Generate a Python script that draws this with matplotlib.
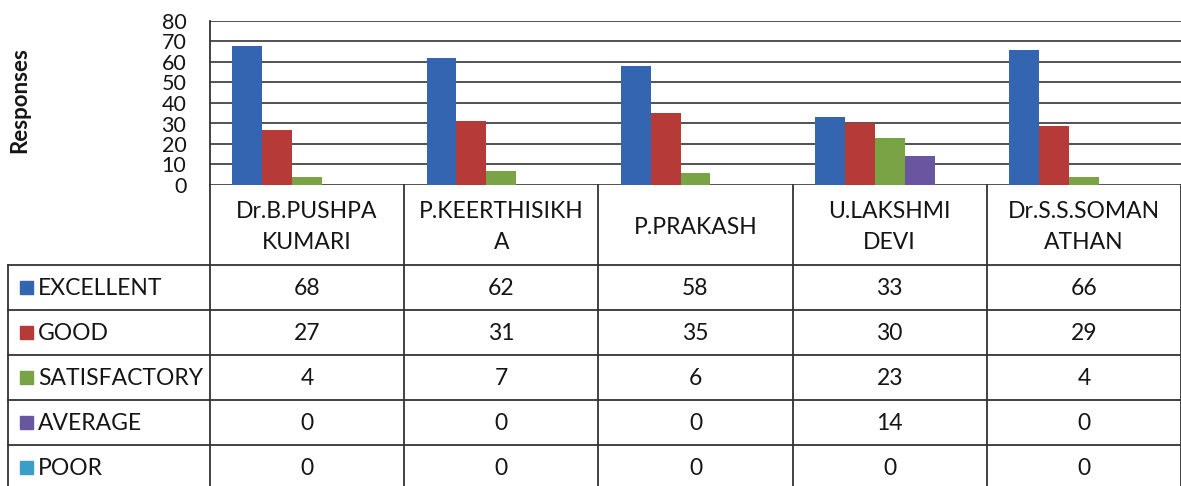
import matplotlib.pyplot as plt
import numpy as np
from matplotlib.patches import Rectangle

plt.rcParams['font.family'] = ['Lato', 'DejaVu Sans']

# ---- data ----
categories = ["Dr.B.PUSHPA\nKUMARI", "P.KEERTHISIKH\nA", "P.PRAKASH",
              "U.LAKSHMI\nDEVI", "Dr.S.S.SOMAN\nATHAN"]
series_names = ["EXCELLENT", "GOOD", "SATISFACTORY", "AVERAGE", "POOR"]
excellent = [68, 62, 58, 33, 66]
good = [27, 31, 35, 30, 29]
satisfactory = [4, 7, 6, 23, 4]
average = [0, 0, 0, 14, 0]
poor = [0, 0, 0, 0, 0]
yticks = [0, 10, 20, 30, 40, 50, 60, 70, 80]
y_label = "Responses"

series = [excellent, good, satisfactory, average, poor]
colors = ["#3465b0", "#b63a38", "#79a344", "#6a56a0", "#3a9ec8"]

W, H = 1181, 486
fig = plt.figure(figsize=(W / 100, H / 100), dpi=100)
TXT = '#151515'


def fx(px):
    return px / W


def fy(py):
    return 1 - py / H


left_px, top_px, base_px = 210, 21, 185
ax = fig.add_axes([fx(left_px), fy(base_px), 1 - fx(left_px), fy(top_px) - fy(base_px)])

n = len(series)
x = np.arange(len(categories))
bw = 1 / (n + 1.5)
for i, (vals, col) in enumerate(zip(series, colors)):
    ax.bar(x + (i - (n - 1) / 2) * bw, vals, width=bw, color=col, zorder=3)

ax.set_xlim(-0.5, len(categories) - 0.5)
ax.set_ylim(0, 80)
ax.set_yticks(yticks)
ax.set_yticklabels([str(t) for t in yticks], fontsize=15.5)
ax.tick_params(axis='y', length=0, pad=17, colors=TXT)
ax.set_xticks([])
ax.grid(axis='y', color='#444444', linewidth=1.3, zorder=0)
for s in ['right', 'bottom', 'top']:
    ax.spines[s].set_visible(False)
ax.spines['left'].set_color('#333333')
ax.spines['left'].set_linewidth(1.3)
fig.text(fx(20), fy(100), y_label, rotation=90, ha='center', va='center',
         fontsize=16, fontweight='bold', color=TXT)

# ---- data table ----
tax = fig.add_axes([fx(left_px), 0, 1 - fx(left_px), fy(base_px)])
tax.set_xlim(-0.5, len(categories) - 0.5)
tax.set_ylim(H - base_px, 0)
tax.axis('off')
pxu = (W - left_px) / len(categories)  # pixels per category


def cx(px):
    return -0.5 - (left_px - px) / pxu


header_h = 80
row_h = 45
lc = '#333333'
for i in range(len(categories) + 1):
    tax.plot([i - 0.5, i - 0.5], [0, H - base_px], color=lc, lw=1.3, clip_on=False)
tax.plot([cx(8), cx(8)], [header_h, H - base_px], color=lc, lw=1.3, clip_on=False)
for r in range(len(series_names)):
    yy = header_h + r * row_h
    tax.plot([cx(8), len(categories) - 0.5], [yy, yy], color=lc, lw=1.3, clip_on=False)

for i, cat in enumerate(categories):
    tax.text(i, header_h / 2 + 2, cat, ha='center', va='center', fontsize=16.5,
             linespacing=1.55, color=TXT)

for r, (name, vals, col) in enumerate(zip(series_names, series, colors)):
    yc = header_h + r * row_h + row_h / 2
    tax.add_patch(Rectangle((cx(20), yc - 6.5), 13 / pxu, 13, color=col, clip_on=False))
    tax.text(cx(38), yc + 1, name, ha='left', va='center', fontsize=16.5, color=TXT)
    for i, v in enumerate(vals):
        tax.text(i, yc + 1, str(v), ha='center', va='center', fontsize=16.5, color=TXT)

fig.savefig('out.png', dpi=100)
